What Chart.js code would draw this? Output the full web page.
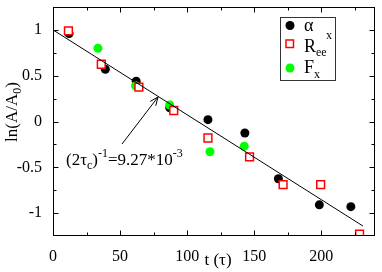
<!DOCTYPE html>
<html><head><meta charset="utf-8">
<script src="https://cdn.jsdelivr.net/npm/chart.js@4/dist/chart.umd.min.js"></script>
<style>html,body{margin:0;padding:0;background:#fff}#wrap{width:382px;height:272px}</style>
</head><body><div id="wrap"><canvas id="c" width="382" height="272"></canvas></div>
<script>
const alphaX = [12, 39, 62, 87, 115.5, 143, 168, 198.5, 222];
const alphaY = [0.96, 0.57, 0.44, 0.15, 0.02, -0.125, -0.625, -0.91, -0.93];
const reeX = [11.5, 36, 64, 90, 115.5, 146.5, 171.5, 199.5, 228.5];
const reeY = [0.99, 0.625, 0.375, 0.12, -0.18, -0.385, -0.69, -0.69, -1.23];
const fxX = [33.5, 61.5, 87, 117, 142.5];
const fxY = [0.80, 0.39, 0.18, -0.33, -0.27];
const fitX = [0, 231];
const fitY = [1.0, -1.141];
const xTicks = [0, 50, 100, 150, 200];
const yTicks = [-1, -0.5, 0, 0.5, 1];
const xMinor = [25, 75, 125, 175, 225];
const yMinor = [-0.75, -0.25, 0.25, 0.75];

const pts = (xs, ys) => xs.map((x, i) => ({x, y: ys[i]}));
const FONT = '"Liberation Serif", "Times New Roman", serif';

const deco = {
  id: 'deco',
  afterDraw(chart) {
    const ctx = chart.ctx, a = chart.chartArea;
    const xs = chart.scales.x, ys = chart.scales.y;
    ctx.save();
    ctx.strokeStyle = '#000'; ctx.lineWidth = 1;
    ctx.strokeRect(Math.round(a.left) + 0.5, Math.round(a.top) + 0.5, Math.round(a.right - a.left) - 1, Math.round(a.bottom - a.top) - 1);
    const L = Math.round(a.left) + 0.5, R = Math.round(a.right) - 0.5, T = Math.round(a.top) + 0.5, B = Math.round(a.bottom) - 0.5;
    ctx.beginPath();
    const tx = (v, len) => { const p = Math.round(xs.getPixelForValue(v)) + 0.5; ctx.moveTo(p, B); ctx.lineTo(p, B - len); ctx.moveTo(p, T); ctx.lineTo(p, T + len); };
    const ty = (v, len) => { const p = Math.round(ys.getPixelForValue(v)) + 0.5; ctx.moveTo(L, p); ctx.lineTo(L + len, p); ctx.moveTo(R, p); ctx.lineTo(R - len, p); };
    xTicks.forEach(v => tx(v, 5)); xMinor.forEach(v => tx(v, 3));
    yTicks.forEach(v => ty(v, 5)); yMinor.forEach(v => ty(v, 3));
    ctx.stroke();

    // legend
    ctx.fillStyle = '#fff';
    ctx.fillRect(280, 17, 55, 63);
    ctx.strokeStyle = '#333'; ctx.lineWidth = 1;
    ctx.strokeRect(280.5, 17.5, 55, 63);
    ctx.fillStyle = '#000';
    ctx.beginPath(); ctx.arc(290, 25.5, 4.5, 0, Math.PI * 2); ctx.fill();
    ctx.strokeStyle = '#f00'; ctx.lineWidth = 1.5;
    ctx.fillStyle = '#fff';
    ctx.fillRect(286, 40, 7.5, 7.5); ctx.strokeRect(286, 40, 7.5, 7.5);
    ctx.fillStyle = '#0f0';
    ctx.beginPath(); ctx.arc(290, 68, 4.5, 0, Math.PI * 2); ctx.fill();
    ctx.fillStyle = '#000';
    ctx.textBaseline = 'alphabetic'; ctx.textAlign = 'left';
    ctx.font = '18px ' + FONT;
    ctx.fillText('\u03b1', 304, 31);
    ctx.fillText('R', 304, 52);
    ctx.fillText('F', 304, 73);
    ctx.font = '12px ' + FONT;
    ctx.fillText('x', 326, 39);
    ctx.fillText('ee', 316, 56);
    ctx.fillText('x', 314, 78);

    // annotation arrow
    ctx.strokeStyle = '#000'; ctx.lineWidth = 1;
    ctx.beginPath(); ctx.moveTo(122, 144); ctx.lineTo(158, 97); ctx.stroke();
    const ang = Math.atan2(97 - 144, 158 - 122);
    ctx.beginPath();
    ctx.moveTo(158 - 9 * Math.cos(ang - 0.4), 97 - 9 * Math.sin(ang - 0.4));
    ctx.lineTo(158, 97);
    ctx.lineTo(158 - 9 * Math.cos(ang + 0.4), 97 - 9 * Math.sin(ang + 0.4));
    ctx.stroke();
    // annotation text
    let x = 66;
    const put = (s, size, dy) => { ctx.font = size + 'px ' + FONT; ctx.fillText(s, x, 165 + dy); x += ctx.measureText(s).width; };
    put('(2\u03c4', 17, 0); put('c', 12, 4); put(')', 17, 0); put('-1', 12, -8); put('=9.27*10', 17, 0); put('-3', 12, -8);

    // y axis title
    ctx.save();
    ctx.translate(17, 112);
    ctx.rotate(-Math.PI / 2);
    const p1 = 'ln(A/A', p2 = '0', p3 = ')';
    ctx.font = '17px ' + FONT; const w1 = ctx.measureText(p1).width, w3 = ctx.measureText(p3).width;
    ctx.font = '12px ' + FONT; const w2 = ctx.measureText(p2).width;
    let sx = -(w1 + w2 + w3) / 2;
    ctx.font = '17px ' + FONT; ctx.fillText(p1, sx, 0); sx += w1;
    ctx.font = '12px ' + FONT; ctx.fillText(p2, sx, 4); sx += w2;
    ctx.font = '17px ' + FONT; ctx.fillText(p3, sx, 0);
    ctx.restore();

    // x axis title
    ctx.font = '17px ' + FONT; ctx.textAlign = 'center';
    ctx.fillText('t (\u03c4)', 218, 265);
    ctx.restore();
  }
};

new Chart(document.getElementById('c'), {
  type: 'scatter',
  data: {
    datasets: [
      {label: 'fit', data: pts(fitX, fitY), showLine: true, borderColor: '#000', borderWidth: 1, pointRadius: 0, fill: false},
      {label: 'Ree', data: pts(reeX, reeY), pointStyle: 'rect', pointRadius: 5.5, backgroundColor: '#fff', borderColor: '#f00', borderWidth: 1.5},
      {label: 'Fx', data: pts(fxX, fxY), pointStyle: 'circle', pointRadius: 4.5, backgroundColor: '#0f0', borderColor: '#0f0', borderWidth: 0},
      {label: 'alpha', data: pts(alphaX, alphaY), pointStyle: 'circle', pointRadius: 4.5, backgroundColor: '#000', borderColor: '#000', borderWidth: 0}
    ]
  },
  options: {
    responsive: false, animation: false, devicePixelRatio: 1,
    layout: {padding: {left: 0, right: 2, top: 1, bottom: 0}},
    plugins: {legend: {display: false}, tooltip: {enabled: false}},
    scales: {
      x: {
        type: 'linear', min: 0, max: 240,
        afterBuildTicks: s => { s.ticks = xTicks.map(v => ({value: v})); },
        afterFit: s => { s.height = 36; s.paddingLeft = 0; s.paddingRight = 0; },
        grid: {display: false}, border: {display: false},
        ticks: {color: '#000', font: {family: FONT, size: 16}, padding: 3, maxRotation: 0, callback: v => String(v)}
      },
      y: {
        type: 'linear', min: -1.25, max: 1.25,
        afterBuildTicks: s => { s.ticks = yTicks.map(v => ({value: v})); },
        afterFit: s => { s.width = 53; s.paddingTop = 0; s.paddingBottom = 0; },
        grid: {display: false}, border: {display: false},
        ticks: {color: '#000', font: {family: FONT, size: 16}, padding: 3, callback: v => String(v)}
      }
    }
  },
  plugins: [deco]
});
</script></body></html>
